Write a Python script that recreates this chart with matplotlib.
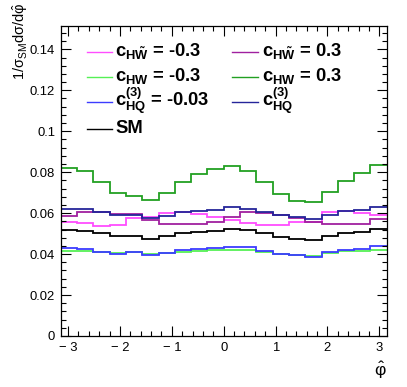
import numpy as np
import matplotlib
matplotlib.use("Agg")
import matplotlib.pyplot as plt
from matplotlib.lines import Line2D

plt.rcParams['font.family'] = ['Liberation Sans', 'DejaVu Sans']
plt.rcParams['mathtext.fontset'] = 'custom'
plt.rcParams['mathtext.rm'] = 'Liberation Sans'
plt.rcParams['mathtext.it'] = 'Liberation Sans'
plt.rcParams['mathtext.bf'] = 'Liberation Sans:bold'

# ---- data (20 bins over [-pi, pi]) ----
n_bins = 20
x_min, x_max = -np.pi, np.pi

c_hwt_m03 = [0.0558, 0.0550, 0.0539, 0.0542, 0.0575, 0.0583, 0.0600, 0.0606, 0.0598, 0.0582,
             0.0566, 0.0552, 0.0540, 0.0542, 0.0556, 0.0558, 0.0605, 0.0612, 0.0602, 0.0591]
c_hwt_p03 = [0.0585, 0.0605, 0.0605, 0.0598, 0.0595, 0.0565, 0.0545, 0.0545, 0.0545, 0.0555,
             0.0580, 0.0605, 0.0603, 0.0592, 0.0578, 0.0558, 0.0548, 0.0546, 0.0545, 0.0570]
c_hw_m03 = [0.0417, 0.0415, 0.0410, 0.0404, 0.0408, 0.0400, 0.0403, 0.0412, 0.0416, 0.0419,
            0.0420, 0.0419, 0.0408, 0.0400, 0.0396, 0.0393, 0.0407, 0.0415, 0.0416, 0.0422]
c_hw_p03 = [0.0819, 0.0804, 0.0750, 0.0699, 0.0682, 0.0664, 0.0697, 0.0752, 0.0791, 0.0815,
            0.0831, 0.0805, 0.0751, 0.0695, 0.0661, 0.0656, 0.0705, 0.0758, 0.0794, 0.0835]
c_hq3_m003 = [0.0428, 0.0425, 0.0408, 0.0402, 0.0408, 0.0394, 0.0404, 0.0420, 0.0425, 0.0428,
              0.0436, 0.0433, 0.0414, 0.0400, 0.0396, 0.0388, 0.0408, 0.0420, 0.0425, 0.0440]
c_hq3_p = [0.0622, 0.0622, 0.0607, 0.0590, 0.0590, 0.0577, 0.0588, 0.0605, 0.0612, 0.0617,
           0.0628, 0.0622, 0.0607, 0.0590, 0.0579, 0.0572, 0.0593, 0.0611, 0.0613, 0.0632]
sm = [0.0516, 0.0514, 0.0501, 0.0487, 0.0489, 0.0474, 0.0487, 0.0501, 0.0507, 0.0515,
      0.0522, 0.0516, 0.0502, 0.0485, 0.0474, 0.0468, 0.0487, 0.0502, 0.0507, 0.0524]

series = [c_hwt_m03, c_hwt_p03, c_hw_m03, c_hw_p03, c_hq3_m003, c_hq3_p, sm]
colors = ['#ff4dff', '#a0209f', '#55f055', '#22a022', '#3c3cff', '#25259a', '#000000']
labels = [r'$\mathbf{c_{H\tilde{W}}}$ = -0.3', r'$\mathbf{c_{H\tilde{W}}}$ = 0.3',
          r'$\mathbf{c_{HW}}$ = -0.3', r'$\mathbf{c_{HW}}$ = 0.3',
          r'$\mathbf{c^{(3)}_{HQ}}$ = -0.03', r'$\mathbf{c^{(3)}_{HQ}}$',
          'SM']

y_ticks = [0, 0.02, 0.04, 0.06, 0.08, 0.1, 0.12, 0.14]
y_ticklabels = ['0', '0.02', '0.04', '0.06', '0.08', '0.1', '0.12', '0.14']
x_ticks = [-3, -2, -1, 0, 1, 2, 3]
x_ticklabels = ['\u2212 3', '\u2212 2', '\u2212 1', '0', '1', '2', '3']

W, H = 407, 387
fig = plt.figure(figsize=(W / 100, H / 100), dpi=100)
L, R, T, B = 60.7, 386.7, 26, 336
ax = fig.add_axes([L / W, 1 - B / H, (R - L) / W, (B - T) / H])

edges = np.linspace(x_min, x_max, n_bins + 1)
for vals, c in zip(series, colors):
    ax.stairs(vals, edges, color=c, lw=1.3, baseline=None)

ax.set_xlim(x_min, x_max)
ax.set_ylim(0, 0.1514)
ax.set_xticks(x_ticks)
ax.set_xticklabels(x_ticklabels)
ax.set_yticks(y_ticks)
ax.set_yticklabels(y_ticklabels)
ax.set_xticks(np.arange(-3.0, 3.01, 0.2), minor=True)
ax.set_yticks(np.arange(0, 0.1515, 0.004), minor=True)
ax.tick_params(which='both', direction='in', top=True, right=True, width=0.8,
               labelsize=9.4, pad=4)
ax.tick_params(which='major', length=7.2)
ax.tick_params(which='minor', length=3.6)
for s in ax.spines.values():
    s.set_linewidth(0.9)

# axis titles
fig.text(380 / W, 1 - 370 / H, r'$\hat{\varphi}$', fontsize=12.5, ha='center', va='center')
fig.text(20 / W, 1 - 3 / H, r'$\mathrm{1/\sigma_{SM}d\sigma/d\hat{\varphi}}$', fontsize=10.5,
         rotation=90, ha='center', va='top')

# legend (manual, ROOT-like)
rows = [52, 77, 102, 129]
cols = [(87, 112, 115), (232, 258, 262)]
for i, (lab, c) in enumerate(zip(labels, colors)):
    r = i // 2
    col = i % 2
    x0, x1, xt = cols[col]
    y = rows[r]
    fig.add_artist(Line2D([x0 / W, x1 / W], [1 - y / H, 1 - y / H], color=c, lw=1.0))
    fig.text(xt / W, 1 - (y + 4) / H, lab, fontsize=13.2, fontweight='bold',
             ha='left', va='baseline')

fig.savefig('out.png', dpi=100)
